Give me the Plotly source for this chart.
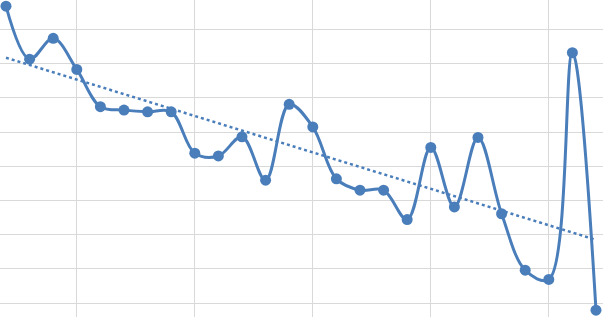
import numpy as np
import plotly.graph_objects as go

# Data
categories = list(range(26))
values = [86.8, 71.3, 77.4, 68.3, 57.4, 56.4, 55.9, 55.9, 43.8, 43.0,
          48.6, 35.9, 58.1, 51.5, 36.3, 33.0, 33.0, 24.4, 45.5, 28.1,
          48.4, 26.1, 9.6, 6.9, 73.2, -2.1]

color = "#4a7ebb"

# Linear trend line fitted to the series
slope, intercept = np.polyfit(categories, values, 1)
trend_x = [categories[0], categories[-1]]
trend_y = [slope * x + intercept for x in trend_x]

fig = go.Figure()
fig.add_trace(go.Scatter(
    x=trend_x, y=trend_y, mode="lines",
    line=dict(color=color, width=2.5, dash="dot"),
    hoverinfo="skip", showlegend=False,
))
fig.add_trace(go.Scatter(
    x=categories, y=values, mode="lines+markers",
    line=dict(color=color, width=3, shape="spline", smoothing=1),
    marker=dict(color=color, size=11),
    showlegend=False, cliponaxis=False,
))

fig.update_layout(
    width=603, height=317,
    margin=dict(l=0, r=0, t=0, b=0),
    paper_bgcolor="white", plot_bgcolor="white",
    xaxis=dict(range=[-0.254, 25.297], showticklabels=False, tick0=3, dtick=5,
               showgrid=True, gridcolor="#d9d9d9", gridwidth=1.3, zeroline=False,
               showline=False),
    yaxis=dict(range=[-4.09, 88.6], showticklabels=False, tick0=0, dtick=10,
               showgrid=True, gridcolor="#d9d9d9", gridwidth=1.3, zeroline=False,
               showline=False),
)

fig.write_html(
    "out.html",
    config={"displayModeBar": False},
    post_script="document.body.style.margin='0';document.body.style.overflow='hidden';",
)
